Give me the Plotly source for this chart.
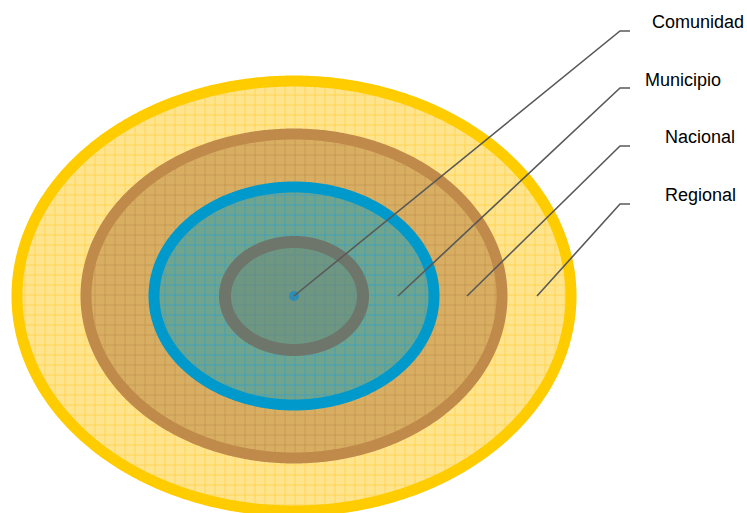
import numpy as np
import plotly.graph_objects as go

# Levels (outer to inner) and their ellipse half-axes (px in the 747x513 canvas)
rings = ["Regional", "Nacional", "Municipio", "Comunidad"]
ring_rx = [277, 208, 140, 69]
ring_ry = [215, 162, 109, 54]
ring_line = ["#FFCC00", "#C08A4A", "#0099CC", "#6E766C"]
ring_width = [11, 11, 11, 12]
ring_bg = ["#FFE48E", "#D8AE62", "#6FA58E", "#6E9680"]
ring_grid = ["#FFCC33", "#BF8F4E", "#2A9CCB", "#5E8C90"]
center = (294, 296)

# Labels and leader lines
labels = ["Comunidad", "Municipio", "Nacional", "Regional"]
label_x = [650, 643, 663, 663]
label_y = [22, 80, 137, 195]
anchor_x = [294, 398, 467, 537]
anchor_y = [296, 296, 296, 296]
elbow_y = [31, 88, 146, 204]
elbow_x = 620
end_x = 630

fig = go.Figure()
t = np.linspace(0, 2 * np.pi, 721)
for name, rx, ry, lc, lw, bg, gc in zip(rings, ring_rx, ring_ry, ring_line, ring_width, ring_bg, ring_grid):
    fig.add_trace(go.Scatter(
        x=center[0] + rx * np.cos(t), y=center[1] + ry * np.sin(t),
        mode="lines", fill="toself",
        line=dict(color=lc, width=lw, simplify=False),
        fillcolor=bg,
        fillpattern=dict(shape="+", bgcolor=bg, fgcolor=gc, size=10,
                         solidity=0.12, fillmode="replace"),
        hoverinfo="skip", showlegend=False, name=name))

fig.add_trace(go.Scatter(x=[center[0]], y=[center[1]], mode="markers",
                         marker=dict(size=10, color="#2E8DB4"),
                         hoverinfo="skip", showlegend=False))

for lab, lx, ly, ax, ay, ey in zip(labels, label_x, label_y, anchor_x, anchor_y, elbow_y):
    fig.add_trace(go.Scatter(x=[ax, elbow_x, end_x], y=[ay, ey, ey], mode="lines",
                             line=dict(color="#595959", width=1.6),
                             hoverinfo="skip", showlegend=False))
    fig.add_annotation(x=lx, y=ly, text=lab, showarrow=False, xanchor="left",
                       yanchor="middle",
                       font=dict(family="Liberation Sans Narrow, Arial Narrow, Liberation Sans",
                                 size=18, color="#000000"))

fig.update_layout(
    width=747, height=513, margin=dict(l=0, r=0, t=0, b=0),
    paper_bgcolor="white", plot_bgcolor="white",
    xaxis=dict(range=[0, 747], visible=False, fixedrange=True),
    yaxis=dict(range=[513, 0], visible=False, fixedrange=True),
)
fig.write_html("out.html", config={"displayModeBar": False},
               post_script="document.body.style.margin='0';document.body.style.overflow='hidden';")
